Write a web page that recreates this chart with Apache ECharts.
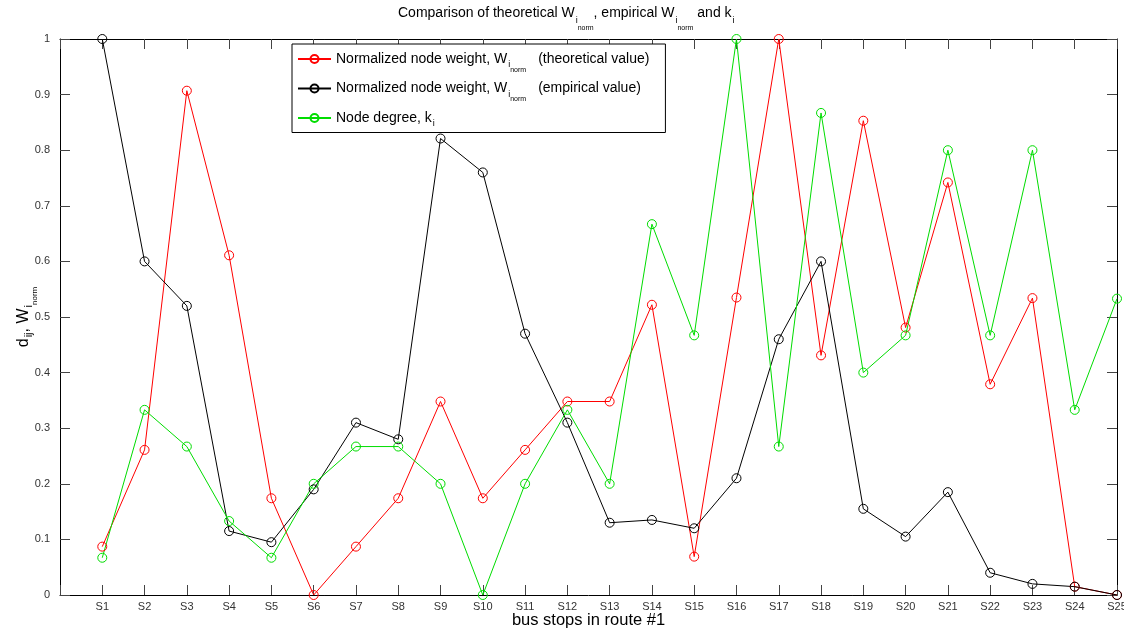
<!DOCTYPE html>
<html>
<head>
<meta charset="utf-8">
<script src="https://cdn.jsdelivr.net/npm/echarts@6/dist/echarts.min.js"></script>
<style>
  html, body { margin: 0; padding: 0; background: #fff; }
  #chart { width: 1124px; height: 630px; }
</style>
</head>
<body>
<div id="chart"></div>
<script>
// Bus stops along route #1
const stops = ['S1','S2','S3','S4','S5','S6','S7','S8','S9','S10','S11','S12','S13',
               'S14','S15','S16','S17','S18','S19','S20','S21','S22','S23','S24','S25'];

// Normalized node weight, theoretical value
const theoretical = [0.087, 0.261, 0.907, 0.611, 0.174, 0.000, 0.087, 0.174, 0.348, 0.174,
                     0.261, 0.348, 0.348, 0.522, 0.069, 0.535, 1.000, 0.431, 0.853, 0.481,
                     0.742, 0.379, 0.534, 0.015, 0.000];

// Normalized node weight, empirical value
const empirical = [1.000, 0.600, 0.520, 0.115, 0.095, 0.190, 0.310, 0.280, 0.821, 0.760,
                   0.470, 0.310, 0.130, 0.135, 0.120, 0.210, 0.460, 0.600, 0.155, 0.105,
                   0.185, 0.040, 0.020, 0.015, 0.000];

// Node degree k_i (normalized)
const degree = [0.067, 0.333, 0.267, 0.133, 0.067, 0.200, 0.267, 0.267, 0.200, 0.000,
                0.200, 0.333, 0.200, 0.667, 0.467, 1.000, 0.267, 0.867, 0.400, 0.467,
                0.800, 0.467, 0.800, 0.333, 0.533];

const seriesNames = [
  'Normalized node weight, W_i_norm (theoretical value)',
  'Normalized node weight, W_i_norm (empirical value)',
  'Node degree, k_i'
];
const seriesColors = ['#ff0000', '#000000', '#00dd00'];

// Rich-text versions with sub / sub-sub scripts
const legendText = [
  '{t|Normalized node weight, W}{s|i}{g|norm}{t|(theoretical value)}',
  '{t|Normalized node weight, W}{s|i}{g|norm}{t|(empirical value)}',
  '{t|Node degree, k}{s|i}'
];
const titleText = '{t|Comparison of theoretical W}{s|i}{n|norm}{t|, empirical W}{s|i}{n|norm}{t| and k}{s|i}';
const yNameText = '{t|d}{s|ij}{t|, W}{s|i}{n|norm}';
const xNameText = 'bus stops in route #1';

const FONT = '"Liberation Sans", Arial, Helvetica, sans-serif';

// Sub- and sub-sub-scripts are pushed down with a negative bottom padding,
// which lowers the glyphs without making the text line any taller.
function richStyles(size, lh, subDrop, subsubDrop, subSize, subsubSize, gapAfter) {
  return {
    t: { fontFamily: FONT, fontSize: size, lineHeight: lh, color: '#000' },
    s: { fontFamily: FONT, fontSize: subSize, lineHeight: lh, color: '#000', padding: [0, 0, -2 * subDrop, 1] },
    n: { fontFamily: FONT, fontSize: subsubSize, lineHeight: lh, color: '#000', padding: [0, 0, -2 * subsubDrop, 0] },
    g: { fontFamily: FONT, fontSize: subsubSize, lineHeight: lh, color: '#000', padding: [0, gapAfter, -2 * subsubDrop, 0] }
  };
}

const chart = echarts.init(document.getElementById('chart'), null, { renderer: 'canvas' });

const lineBlack = { show: true, onZero: false, lineStyle: { color: '#000', width: 1 } };
const tickStyle = { show: true, inside: true, length: 10, lineStyle: { color: '#444', width: 1 } };

const makeSeries = (idx, values) => ({
  name: seriesNames[idx],
  type: 'line',
  xAxisIndex: 0,
  yAxisIndex: 0,
  data: values.map((v, i) => [i + 1, v]),
  symbol: 'circle',
  symbolSize: 9,
  clip: false,
  animation: false,
  lineStyle: { color: seriesColors[idx], width: 1 },
  itemStyle: { color: 'rgba(0,0,0,0)', borderColor: seriesColors[idx], borderWidth: 1 },
  emphasis: { disabled: true }
});

chart.setOption({
  backgroundColor: '#fff',
  animation: false,
  title: {
    text: titleText,
    left: 398,
    top: 4,
    padding: 0,
    textStyle: { fontFamily: FONT, fontSize: 14, fontWeight: 'normal', color: '#000', lineHeight: 18,
                 rich: richStyles(14, 18, 8, 15, 9, 7, 0) }
  },
  legend: {
    orient: 'vertical',
    left: 292,
    top: 44,
    padding: [6, 16, 4, 5],
    itemGap: 6,
    itemWidth: 33,
    itemHeight: 10,
    borderColor: '#000',
    borderWidth: 1,
    backgroundColor: '#fff',
    selectedMode: false,
    data: seriesNames,
    formatter: name => legendText[seriesNames.indexOf(name)],
    textStyle: { fontFamily: FONT, fontSize: 14, color: '#000', lineHeight: 18,
                 rich: richStyles(14, 18, 6, 11, 9, 7, 12) }
  },
  grid: { left: 60, right: 7, top: 39, bottom: 35, outerBoundsMode: 'none', containLabel: false },
  xAxis: [
    {
      type: 'value', position: 'bottom', min: 0, max: 25, interval: 1,
      axisLine: lineBlack, axisTick: tickStyle, splitLine: { show: false },
      axisLabel: {
        fontFamily: FONT, fontSize: 11, color: '#333', margin: 6,
        formatter: v => stops[v - 1] || ''
      },
      name: xNameText, nameLocation: 'middle', nameGap: 17, nameMoveOverlap: false,
      nameTextStyle: { fontFamily: FONT, fontSize: 16.5, color: '#000' }
    },
    {
      type: 'value', position: 'top', min: 0, max: 25, interval: 1,
      axisLine: lineBlack, axisTick: tickStyle, splitLine: { show: false },
      axisLabel: { show: false }
    }
  ],
  yAxis: [
    {
      type: 'value', position: 'left', min: 0, max: 1, interval: 0.1,
      axisLine: lineBlack, axisTick: tickStyle, splitLine: { show: false },
      axisLabel: { fontFamily: FONT, fontSize: 11, color: '#333', margin: 10 },
      name: yNameText, nameLocation: 'middle', nameRotate: 90, nameGap: 26, nameMoveOverlap: false,
      nameTextStyle: { fontFamily: FONT, fontSize: 16, color: '#000', lineHeight: 20,
                       rich: richStyles(16, 20, 5, 11, 11, 8, 0) }
    },
    {
      type: 'value', position: 'right', min: 0, max: 1, interval: 0.1,
      axisLine: lineBlack, axisTick: tickStyle, splitLine: { show: false },
      axisLabel: { show: false }
    }
  ],
  series: [
    makeSeries(0, theoretical),
    makeSeries(1, empirical),
    makeSeries(2, degree)
  ]
});
</script>
</body>
</html>
